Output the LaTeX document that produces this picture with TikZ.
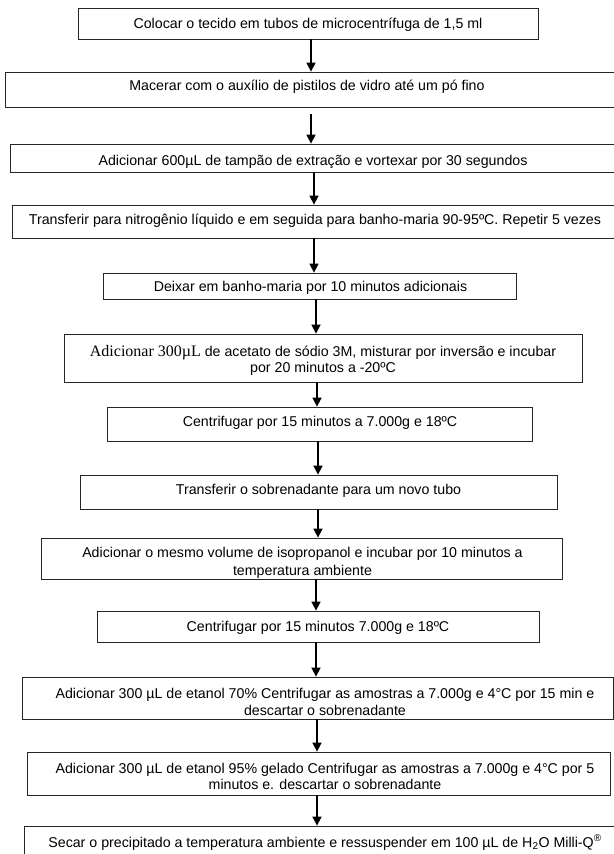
\documentclass[tikz,border=0pt]{standalone}
\usepackage{fontspec}
\setmainfont{Liberation Sans}
\newfontfamily\serifa{Liberation Serif}
\usetikzlibrary{arrows.meta}
\begin{document}
\begin{tikzpicture}[x=1bp,y=-1bp,
  stepbox/.style={draw=black!85, line width=0.8bp, inner sep=0pt, fill=none},
  txt/.style={inner sep=0pt, align=center, anchor=base, font=\fontsize{14.2bp}{16.5bp}\selectfont},
  arr/.style={line width=1.6bp, -{Triangle[width=9bp,length=9bp]}}]
\clip (0,0) rectangle (614,854);
\fill[white] (0,0) rectangle (614,854);
% boxes
\node[stepbox, minimum width=460bp, minimum height=31bp] (b1) at (308,23.5) {};
\node[stepbox, minimum width=615bp, minimum height=35bp] (b2) at (312.5,89.5) {};
\node[stepbox, minimum width=610bp, minimum height=28bp] (b3) at (315,158) {};
\node[stepbox, minimum width=608bp, minimum height=33bp] (b4) at (316,221.5) {};
\node[stepbox, minimum width=413bp, minimum height=26bp] (b5) at (309.5,286) {};
\node[stepbox, minimum width=518bp, minimum height=48bp] (b6) at (323,358) {};
\node[stepbox, minimum width=425bp, minimum height=34bp] (b7) at (319.5,424) {};
\node[stepbox, minimum width=477bp, minimum height=34bp] (b8) at (318.5,492) {};
\node[stepbox, minimum width=521bp, minimum height=41bp] (b9) at (301.5,558.5) {};
\node[stepbox, minimum width=442bp, minimum height=31bp] (b10) at (318,626.5) {};
\node[stepbox, minimum width=591bp, minimum height=42bp] (b11) at (317.5,698) {};
\node[stepbox, minimum width=583bp, minimum height=43bp] (b12) at (318.5,773.5) {};
\node[stepbox, minimum width=596bp, minimum height=44bp] (b13) at (322,848) {};
% texts (anchor base = baseline of the last line)
\node[txt] (t1) at (308,28.5) {Colocar o tecido em tubos de microcentrífuga de 1,5 ml};
\node[txt] (t2) at (307,90.7) {Macerar com o auxílio de pistilos de vidro até um pó fino};
\node[txt] (t3) at (313,165) {Adicionar 600µL de tampão de extração e vortexar por 30 segundos};
\node[txt] (t4) at (315,224) {Transferir para nitrogênio líquido e em seguida para banho-maria 90-95ºC. Repetir 5 vezes};
\node[txt] (t5) at (310.5,291.5) {Deixar em banho-maria por 10 minutos adicionais};
\node[txt] (t6) at (323,372.5) {{\serifa\fontsize{16bp}{16.5bp}\selectfont Adicionar 300µL} de acetato de sódio 3M, misturar por inversão e incubar\\por 20 minutos a -20ºC};
\node[txt] (t7) at (320,426.7) {Centrifugar por 15 minutos a 7.000g e 18ºC};
\node[txt] (t8) at (318.5,494) {Transferir o sobrenadante para um novo tubo};
\begin{scope}
\clip (b9.north west) rectangle ([yshift=-3.5bp]b9.south east);
\node[txt] (t9) at (302.5,575) {Adicionar o mesmo volume de isopropanol e incubar por 10 minutos a\\[1.5bp]temperatura ambiente};
\end{scope}
\node[txt] (t10) at (318,631) {Centrifugar por 15 minutos 7.000g e 18ºC};
\node[txt] (t11) at (325,715) {Adicionar 300 µL de etanol 70\% Centrifugar as amostras a 7.000g e 4°C por 15 min e\\descartar o sobrenadante};
\node[txt] (t12) at (325,789.5) {Adicionar 300 µL de etanol 95\% gelado Centrifugar as amostras a 7.000g e 4°C por 5\\minutos e. descartar o sobrenadante};
\node[txt] (t13) at (325,847) {Secar o precipitado a temperatura ambiente e ressuspender em 100 µL de H\textsubscript{2}O Milli-Q\textsuperscript{®}};
% arrow columns
\coordinate (xa) at (311,0);
\coordinate (xb) at (314,0);
\coordinate (xc) at (316,0);
\coordinate (xd) at (317,0);
\coordinate (xe) at (318,0);
% arrows
\draw[arr] (b1.south -| xa) -- (b2.north -| xa);
\draw[arr, shorten <=7bp] (b2.south -| xa) -- (b3.north -| xa);
\draw[arr] (b3.south -| xb) -- (b4.north -| xb);
\draw[arr] (b4.south -| xb) -- (b5.north -| xb);
\draw[arr] (b5.south -| xc) -- (b6.north -| xc);
\draw[arr] (b6.south -| xd) -- (b7.north -| xd);
\draw[arr] (b7.south -| xe) -- (b8.north -| xe);
\draw[arr] (b8.south -| xe) -- (b9.north -| xe);
\draw[arr] (b9.south -| xc) -- (b10.north -| xc);
\draw[arr] (b10.south -| xc) -- (b11.north -| xc);
\draw[arr] (b11.south -| xd) -- (b12.north -| xd);
\draw[arr] (b12.south -| xd) -- (b13.north -| xd);
\end{tikzpicture}
\end{document}
